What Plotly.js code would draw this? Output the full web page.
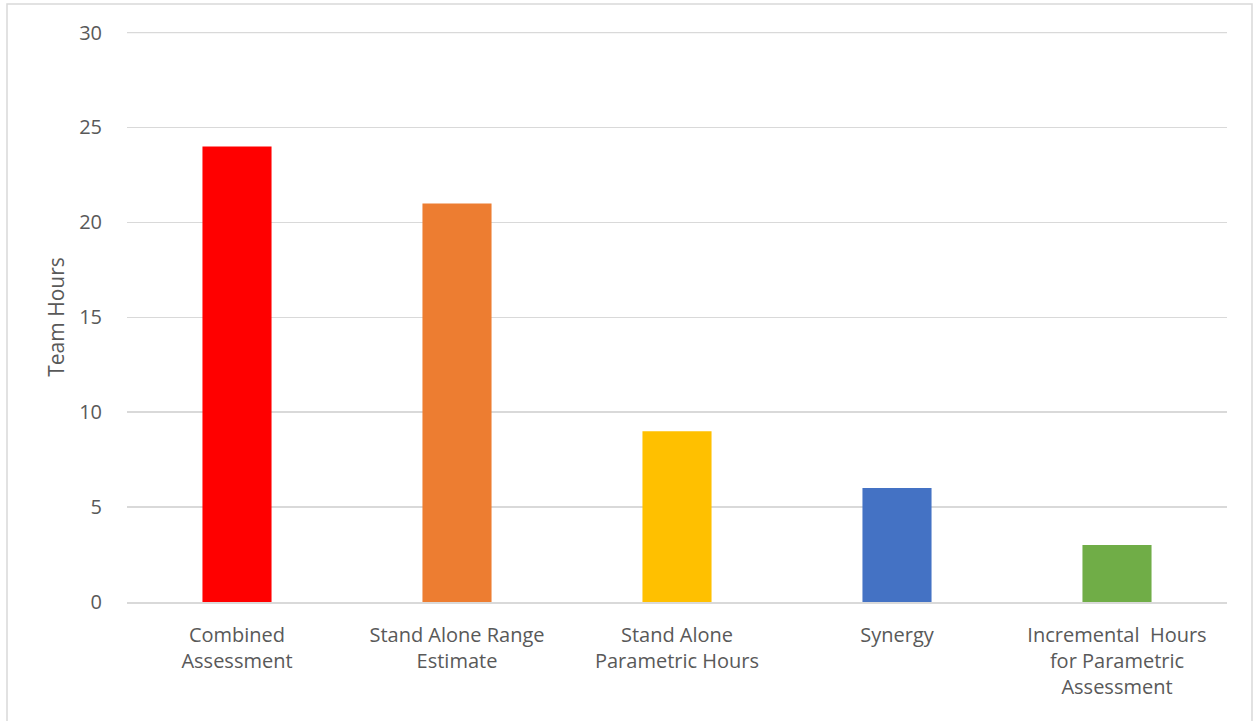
<!DOCTYPE html>
<html>
<head>
<meta charset="utf-8">
<script src="https://cdn.plot.ly/plotly-3.0.1.min.js"></script>
<style>
  html, body { margin: 0; padding: 0; background: #ffffff; }
  #chart { width: 1253px; height: 721px; }
</style>
</head>
<body>
<div id="chart"></div>
<script>
// Team hours by assessment approach
const categories = [
  "Combined<br>Assessment",
  "Stand Alone Range<br>Estimate",
  "Stand Alone<br>Parametric Hours",
  "Synergy",
  "Incremental\u00a0 Hours<br>for Parametric<br>Assessment"
];
const teamHours = [24, 21, 9, 6, 3];
const barColors = ["#FF0000", "#ED7D31", "#FFC000", "#4472C4", "#70AD47"];
const yTicks = [0, 5, 10, 15, 20, 25, 30];
const yMax = 30;

const fontFamily = "Open Sans, Noto Sans, Liberation Sans, sans-serif";
const textColor = "#595959";
const gridColor = "#d9d9d9";

const trace = {
  type: "bar",
  x: categories,
  y: teamHours,
  marker: { color: barColors, line: { width: 0 } },
  hoverinfo: "x+y"
};

const layout = {
  width: 1253,
  height: 721,
  margin: { l: 127, r: 26, t: 32, b: 119 },
  paper_bgcolor: "#ffffff",
  plot_bgcolor: "#ffffff",
  bargap: 0.686,
  showlegend: false,
  font: { family: fontFamily, color: textColor, size: 20 },
  xaxis: {
    type: "category",
    showgrid: false,
    showline: true,
    linecolor: gridColor,
    linewidth: 1.5,
    ticks: "outside",
    ticklen: 14,
    tickcolor: "rgba(0,0,0,0)",
    tickfont: { family: fontFamily, color: textColor, size: 20 },
    zeroline: false
  },
  yaxis: {
    range: [0, yMax + 0.03],
    tickvals: yTicks,
    ticktext: yTicks.map(String),
    showgrid: true,
    gridcolor: gridColor,
    gridwidth: 1.5,
    zeroline: false,
    showline: false,
    ticks: "outside",
    ticklen: 20,
    tickcolor: "rgba(0,0,0,0)",
    tickfont: { family: fontFamily, color: textColor, size: 20 },
    title: { text: "Team Hours", font: { family: fontFamily, color: textColor, size: 21 }, standoff: 8 }
  },
  shapes: [
    {
      // outer chart frame
      type: "rect",
      xref: "paper", yref: "paper",
      x0: (7 - 127) / 1100, x1: (1252 - 127) / 1100,
      y0: (602 - 722) / 570, y1: (602 - 4) / 570,
      line: { color: gridColor, width: 1.5 },
      fillcolor: "rgba(0,0,0,0)",
      layer: "below"
    },
    {
      // top gridline at the axis maximum
      type: "line",
      xref: "paper", yref: "y",
      x0: 0, x1: 1, y0: yMax, y1: yMax,
      line: { color: gridColor, width: 1.5 },
      layer: "below"
    }
  ]
};

Plotly.newPlot("chart", [trace], layout, { displayModeBar: false, staticPlot: true });
</script>
</body>
</html>
